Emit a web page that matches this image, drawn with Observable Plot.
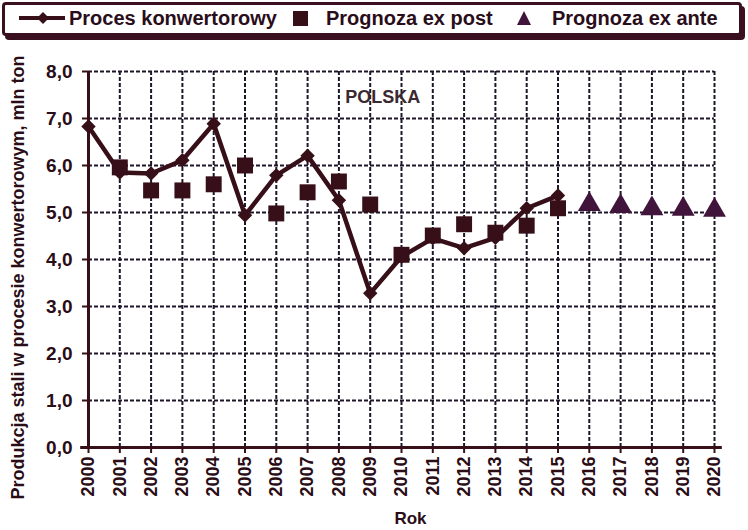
<!DOCTYPE html>
<html>
<head>
<meta charset="utf-8">
<script src="https://cdn.jsdelivr.net/npm/d3@7"></script>
<script src="https://cdn.jsdelivr.net/npm/@observablehq/plot@0.6"></script>
<style>
  html, body { margin: 0; padding: 0; background: #fff; }
  body { width: 748px; height: 530px; overflow: hidden; font-family: "Liberation Sans", Arial, sans-serif; }
  #legend { position: relative; width: 748px; height: 40px; }
  #legend .box { position: absolute; left: 2px; top: 2px; width: 734px; height: 28px;
    border: 3px solid #3a1020; border-radius: 4px; box-shadow: 3px 4px 0 #3a1020; background: #fff; }
  #legend .item { position: absolute; top: 6px; font-size: 20px; font-weight: bold; color: #2a0d1a; line-height: 24px; white-space: nowrap; }
  #legend svg { position: absolute; }
  #chart svg { display: block; font-weight: bold; }
</style>
</head>
<body>
<div id="legend">
  <div class="box"></div>
  <svg style="left:17px; top:9px" width="50" height="18">
    <line x1="2" y1="9" x2="48" y2="9" stroke="#370f19" stroke-width="4"/>
    <path d="M26,3 L32,9 L26,15 L20,9 Z" fill="#370f19"/>
  </svg>
  <span class="item" style="left:69px">Proces konwertorowy</span>
  <svg style="left:292px; top:10px" width="18" height="18">
    <rect x="1" y="1" width="15" height="15" fill="#370f19"/>
  </svg>
  <span class="item" style="left:326px">Prognoza ex post</span>
  <svg style="left:515px; top:10px" width="18" height="18">
    <path d="M9,1 L16,15 L2,15 Z" fill="#41143c"/>
  </svg>
  <span class="item" style="left:552px">Prognoza ex ante</span>
</div>
<div id="chart"></div>
<script>
// Data
const yearsActual = [2000, 2001, 2002, 2003, 2004, 2005, 2006, 2007, 2008, 2009, 2010, 2011, 2012, 2013, 2014, 2015];
const konwertorowy = [6.83, 5.85, 5.83, 6.11, 6.89, 4.94, 5.79, 6.21, 5.26, 3.28, 4.06, 4.45, 4.24, 4.46, 5.09, 5.36];

const yearsExPost = [2001, 2002, 2003, 2004, 2005, 2006, 2007, 2008, 2009, 2010, 2011, 2012, 2013, 2014, 2015];
const exPost = [5.96, 5.47, 5.47, 5.60, 6.00, 4.98, 5.43, 5.66, 5.17, 4.10, 4.51, 4.75, 4.57, 4.72, 5.09];

const yearsExAnte = [2016, 2017, 2018, 2019, 2020];
const exAnte = [5.17, 5.13, 5.08, 5.07, 5.05];

const xTicks = [2000, 2001, 2002, 2003, 2004, 2005, 2006, 2007, 2008, 2009, 2010, 2011, 2012, 2013, 2014, 2015, 2016, 2017, 2018, 2019, 2020];
const yTicks = [0, 1, 2, 3, 4, 5, 6, 7, 8];

const yTitle = "Produkcja stali w procesie konwertorowym, mln ton";
const xTitle = "Rok";
const annotation = [{x: 2009.4, y: 7.45, text: "POLSKA"}];

const lineData = yearsActual.map((yr, i) => ({year: yr, value: konwertorowy[i]}));
const postData = yearsExPost.map((yr, i) => ({year: yr, value: exPost[i]}));
const anteData = yearsExAnte.map((yr, i) => ({year: yr, value: exAnte[i]}));

const dark = "#370f19";
const gridColor = "#1e1628";

const chart = Plot.plot({
  width: 748,
  height: 490,
  marginLeft: 88,
  marginRight: 34,
  marginTop: 31,
  marginBottom: 83,
  style: {fontFamily: "'Liberation Sans', Arial, sans-serif", fontWeight: "bold", color: "#2a0d16", background: "#fff"},
  x: {domain: [2000, 2020]},
  y: {domain: [0, 8]},
  marks: [
    Plot.gridX(xTicks.slice(1), {stroke: gridColor, strokeOpacity: 1, strokeWidth: 2, strokeDasharray: "4,2"}),
    Plot.gridY(yTicks.slice(1), {stroke: gridColor, strokeOpacity: 1, strokeWidth: 2, strokeDasharray: "4,2"}),
    Plot.ruleX([2000], {stroke: dark, strokeWidth: 3}),
    Plot.ruleY([0], {x1: 1999.75, x2: 2020.25, stroke: dark, strokeWidth: 3}),
    Plot.axisX({ticks: xTicks, tickFormat: d => String(d), tickRotate: -90, tickSize: 6, tickPadding: 3,
      fontSize: 18, stroke: dark, strokeWidth: 2, label: null}),
    Plot.axisY({ticks: yTicks, tickFormat: d => d.toFixed(1).replace(".", ","), tickSize: 6, tickPadding: 10,
      fontSize: 19, stroke: dark, strokeWidth: 2, label: null}),
    Plot.line(lineData, {x: "year", y: "value", stroke: dark, strokeWidth: 4.5}),
    Plot.dot(postData, {x: "year", y: "value", symbol: "square", r: 9, fill: dark}),
    Plot.dot(lineData, {x: "year", y: "value", symbol: "diamond2", r: 6.5, fill: dark}),
    Plot.dot(anteData, {x: "year", y: "value", symbol: "triangle", r: 8.5, fill: "#41143c"}),
    Plot.text(annotation, {x: "x", y: "y", text: "text", fontSize: 18, fill: "#3a2a30"}),
    Plot.text([yTitle], {frameAnchor: "left", textAnchor: "middle", text: d => d, rotate: -90, dx: -70, dy: 18, fontSize: 18, fill: "#2a0d16"}),
    Plot.text([xTitle], {frameAnchor: "bottom", text: d => d, dx: 9, dy: 76, fontSize: 17, fill: "#2a0d16"})
  ]
});
document.getElementById("chart").appendChild(chart);
</script>
</body>
</html>
